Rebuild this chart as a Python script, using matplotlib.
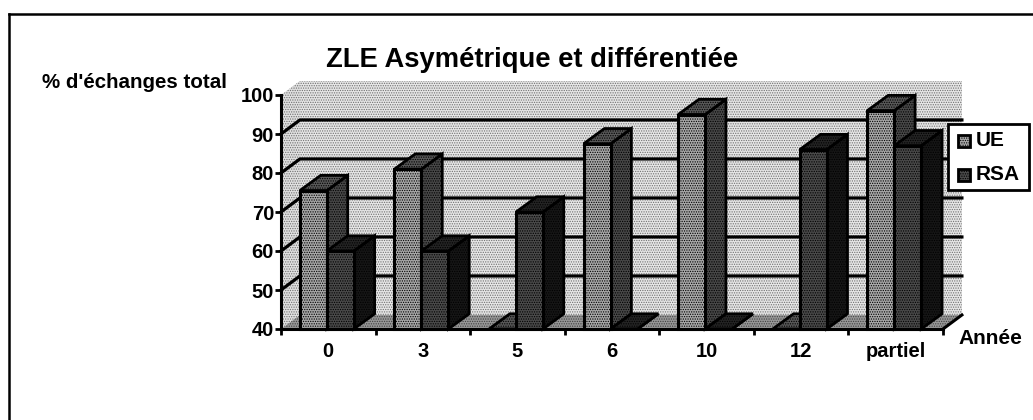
import matplotlib
matplotlib.use("Agg")
import matplotlib.pyplot as plt
from matplotlib.patches import Polygon, Rectangle

plt.rcParams['font.family'] = ['Liberation Sans', 'DejaVu Sans']
plt.rcParams['font.weight'] = 'bold'
plt.rcParams['hatch.linewidth'] = 0.6

categories = ['0', '3', '5', '6', '10', '12', 'partiel']
ue_values = [75.5, 81, 0, 87.5, 95, 0, 96]
rsa_values = [60, 60, 70, 0, 0, 86, 87]
y_ticks = [40, 50, 60, 70, 80, 90, 100]
title = "ZLE Asymétrique et différentiée"

W, H = 1033, 420
fig = plt.figure(figsize=(W / 100, H / 100), dpi=100, facecolor='white')

bg = fig.add_axes([0, 0, 1, 1])
bg.set_xlim(0, W); bg.set_ylim(H, 0); bg.axis('off')
bg.plot([9, 9], [H, 14], color='black', lw=1.8)
bg.plot([9, W], [14, 14], color='black', lw=1.8)

L, R, T, B = 281, 943, 95, 329
ax = fig.add_axes([L / W, 1 - B / H, (R - L) / W, (B - T) / H])
ax.set_xlim(0, len(categories)); ax.set_ylim(40, 100)
ax.patch.set_visible(False)
for s in ['top', 'right']:
    ax.spines[s].set_visible(False)
for s in ['left', 'bottom']:
    ax.spines[s].set_linewidth(2.2)
    ax.spines[s].set_zorder(6)
ax.set_yticks(y_ticks)
ax.set_yticklabels([str(t) for t in y_ticks], fontsize=14.5)
ax.set_xticks(range(len(categories) + 1))
ax.set_xticklabels([])
ax.tick_params(axis='both', width=2, length=4, pad=1)

DX, DY = 0.2, 3.6
nx = len(categories)

def shade(points, fc, ec, z=1):
    ax.add_patch(Polygon(points, fc=fc, ec=ec, lw=0, hatch='.......', clip_on=False, zorder=z))

shade([(0, 40), (DX, 40 + DY), (DX, 100 + DY), (0, 100)], '#e0e0e0', '#707070')
shade([(DX, 40 + DY), (nx + DX, 40 + DY), (nx + DX, 100 + DY), (DX, 100 + DY)], '#e6e6e6', '#707070')
shade([(0, 40), (DX, 40 + DY), (nx + DX, 40 + DY), (nx, 40)], '#989898', '#404040')
for t in y_ticks[1:-1]:
    ax.plot([0, DX, nx + DX], [t, t + DY, t + DY], color='black', lw=2.3, clip_on=False, zorder=2)
ax.plot([nx, nx + DX], [40, 40 + DY], color='black', lw=2.2, clip_on=False, zorder=2)

BW = 0.285
OFF = 0.2
BDX, BDY = 0.22, 3.9

def bar3d(x0, val, front, top, side):
    v = max(val, 40)
    x1 = x0 + BW
    ax.add_patch(Polygon([(x1, 40), (x1 + BDX, 40 + BDY), (x1 + BDX, v + BDY), (x1, v)], fc=side, ec='black',
                         lw=2, hatch='.......', clip_on=False, zorder=3))
    ax.add_patch(Polygon([(x0, v), (x0 + BDX, v + BDY), (x1 + BDX, v + BDY), (x1, v)], fc=top, ec='black',
                         lw=2, hatch='.......', clip_on=False, zorder=3))
    if val > 40:
        ax.add_patch(Polygon([(x0, 40), (x1, 40), (x1, v), (x0, v)], fc=front, ec='black',
                             lw=2.2, hatch='.......', clip_on=False, zorder=3))

for i in range(nx):
    bar3d(i + OFF, ue_values[i], '#a8a8a8', '#585858', '#484848')
    bar3d(i + OFF + BW, rsa_values[i], '#4a4a4a', '#242424', '#161616')

for i, c in enumerate(categories):
    ax.annotate(c, (i + 0.5, 40), xytext=(0, -16.5), textcoords='offset points',
                ha='center', va='center', fontsize=14.5, annotation_clip=False)

bg.text(134, 83, "% d'échanges total", ha='center', va='center', fontsize=14.8)
bg.text(532, 60, title, ha='center', va='center', fontsize=19.7)
bg.text(990, 339, 'Année', ha='center', va='center', fontsize=15)

top = fig.add_axes([0, 0, 1, 1], facecolor='none')
top.set_xlim(0, W); top.set_ylim(H, 0); top.axis('off')
top.add_patch(Rectangle((948, 124), 81, 66, fc='white', ec='black', lw=2))
top.add_patch(Rectangle((958, 135), 12, 12, fc='#a8a8a8', ec='black', lw=2, hatch='.......'))
top.add_patch(Rectangle((958, 169), 12, 12, fc='#4a4a4a', ec='black', lw=2, hatch='.......'))
top.text(976, 141, 'UE', ha='left', va='center', fontsize=15)
top.text(976, 175, 'RSA', ha='left', va='center', fontsize=15)

fig.savefig('out.png', dpi=100, facecolor='white')
